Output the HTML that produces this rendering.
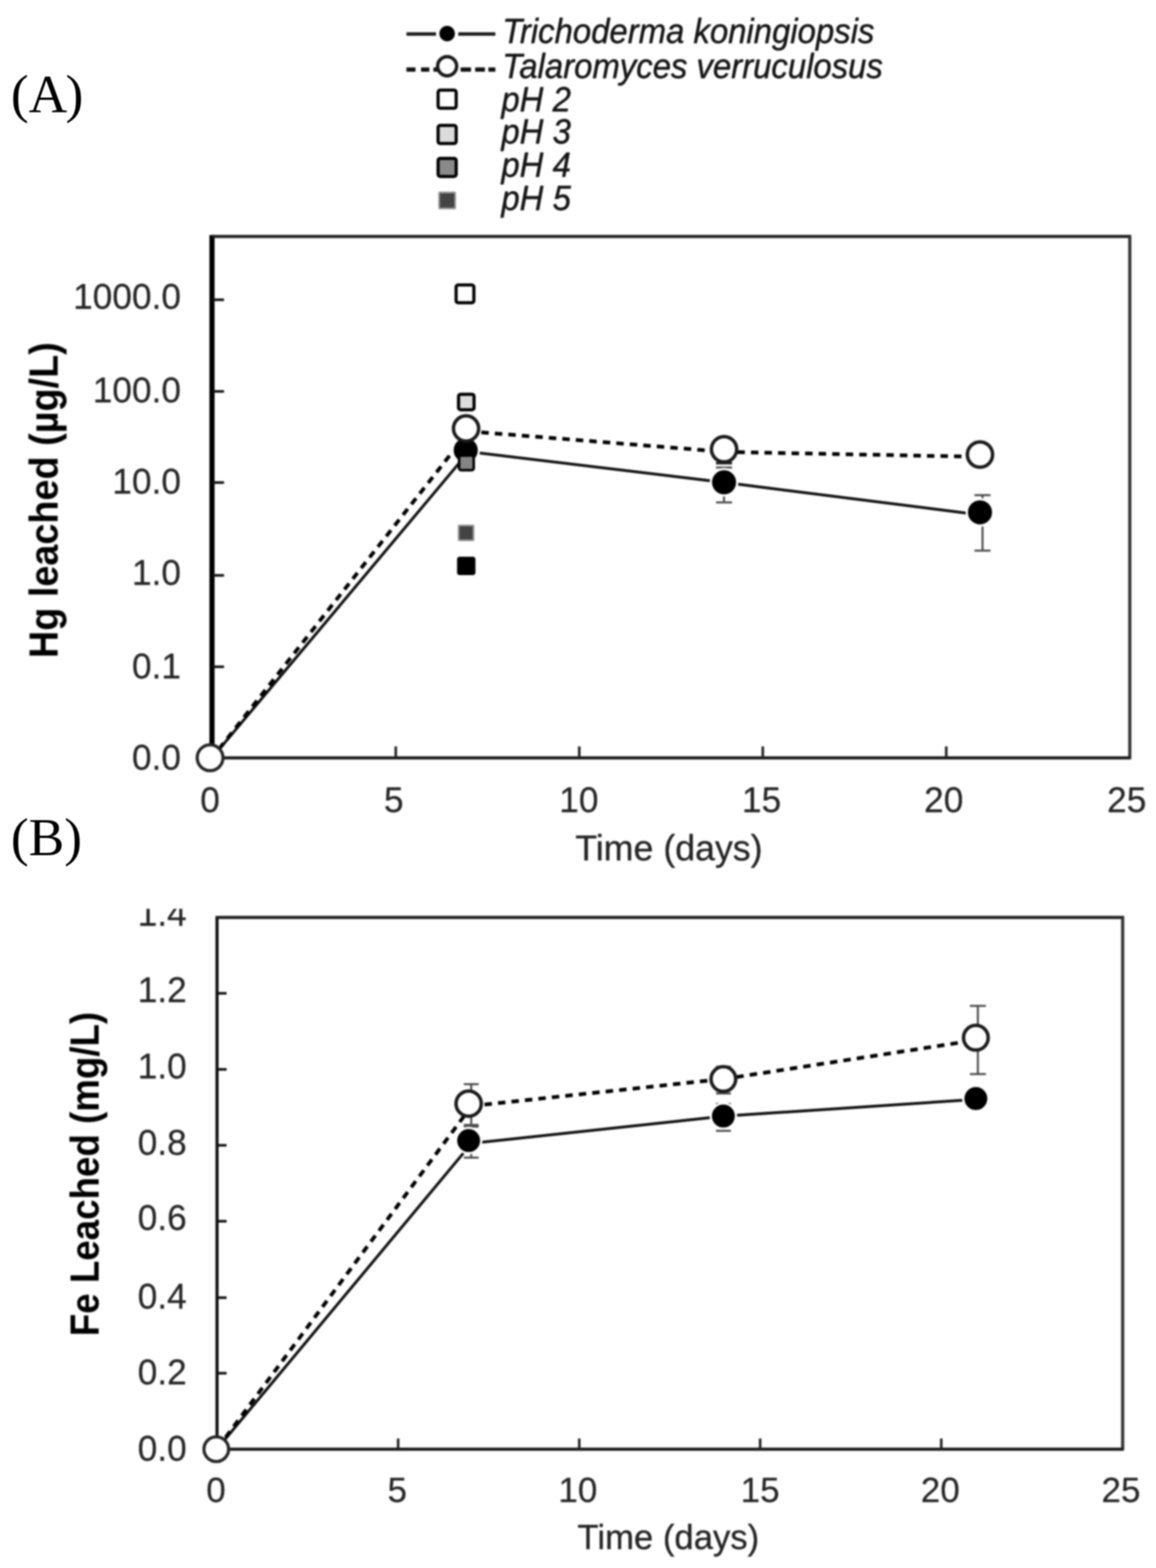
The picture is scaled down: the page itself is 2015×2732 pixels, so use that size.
<!DOCTYPE html>
<html lang="en"><head><meta charset="utf-8"><title>Hg and Fe leached over time</title>
<style>html,body{margin:0;padding:0;background:#fff}body{width:2015px;height:2732px;overflow:hidden}svg{display:block}</style>
</head><body>
<svg width="2015" height="2732" viewBox="0 0 2015 2732">
<rect x="0" y="0" width="2015" height="2732" fill="#fff"/>
<defs><filter id="soft" x="0" y="0" width="2015" height="2732" filterUnits="userSpaceOnUse" color-interpolation-filters="sRGB"><feGaussianBlur stdDeviation="1.7"/></filter><filter id="soft2" x="0" y="0" width="2015" height="2732" filterUnits="userSpaceOnUse" color-interpolation-filters="sRGB"><feGaussianBlur stdDeviation="0.9"/></filter><clipPath id="clipB"><rect x="0" y="1583.5" width="2015" height="1200"/></clipPath></defs>
<g id="panels" filter="url(#soft2)">
<text x="19" y="194.5" font-family="'Liberation Serif', 'Times New Roman', serif" font-size="93" text-anchor="start" fill="#000" font-weight="normal" font-style="normal"  dx="0 0 -3">(A)</text>
<text x="19" y="1490" font-family="'Liberation Serif', 'Times New Roman', serif" font-size="93" text-anchor="start" fill="#000" font-weight="normal" font-style="normal"  >(B)</text>
</g>
<g id="fig" filter="url(#soft)">
<line x1="708.5" y1="59.2" x2="863.4" y2="59.2" stroke="#1a1a1a" stroke-width="6" />
<circle cx="779.4" cy="58.5" r="16.5" fill="#000" stroke="#fff" stroke-width="6"/>
<line x1="708.5" y1="121.2" x2="724.2" y2="121.2" stroke="#111" stroke-width="7.5" />
<line x1="733.9" y1="121.2" x2="748.4" y2="121.2" stroke="#111" stroke-width="7.5" />
<line x1="755.5" y1="121.2" x2="763" y2="121.2" stroke="#111" stroke-width="7.5" />
<line x1="802.9" y1="121.2" x2="821" y2="121.2" stroke="#111" stroke-width="7.5" />
<line x1="828.3" y1="121.2" x2="845.3" y2="121.2" stroke="#111" stroke-width="7.5" />
<line x1="851.3" y1="121.2" x2="863.4" y2="121.2" stroke="#111" stroke-width="7.5" />
<circle cx="779.4" cy="115.3" r="16.6" fill="#fff" stroke="#1a1a1a" stroke-width="6"/>
<rect x="763.65" y="157.05" width="31.5" height="31.5" rx="3.5" fill="#fff" stroke="#000" stroke-width="5.5"/>
<rect x="763.65" y="218.55" width="31.5" height="31.5" rx="3.5" fill="#dcdcdc" stroke="#000" stroke-width="5.5"/>
<rect x="763.65" y="275.95" width="31.5" height="31.5" rx="3.5" fill="#8a8a8a" stroke="#000" stroke-width="5.5"/>
<rect x="765.4" y="335.3" width="28" height="28" rx="1" fill="#444" stroke="#9a9a9a" stroke-width="3"/>
<text transform="translate(875.5,74.5) scale(0.9347,1)" font-family="'Liberation Sans', Arial, sans-serif" font-size="61.3" font-style="italic" fill="#161616" stroke="#161616" stroke-width="0.8" stroke-linejoin="round">Trichoderma koningiopsis</text>
<text transform="translate(875.5,136.2) scale(0.9347,1)" font-family="'Liberation Sans', Arial, sans-serif" font-size="61.3" font-style="italic" fill="#161616" stroke="#161616" stroke-width="0.8" stroke-linejoin="round">Talaromyces verruculosus</text>
<text transform="translate(874,193.8) scale(0.9347,1)" font-family="'Liberation Sans', Arial, sans-serif" font-size="61.3" font-style="italic" fill="#161616" stroke="#161616" stroke-width="0.8" stroke-linejoin="round">pH 2</text>
<text transform="translate(874,250) scale(0.9347,1)" font-family="'Liberation Sans', Arial, sans-serif" font-size="61.3" font-style="italic" fill="#161616" stroke="#161616" stroke-width="0.8" stroke-linejoin="round">pH 3</text>
<text transform="translate(874,308.1) scale(0.9347,1)" font-family="'Liberation Sans', Arial, sans-serif" font-size="61.3" font-style="italic" fill="#161616" stroke="#161616" stroke-width="0.8" stroke-linejoin="round">pH 4</text>
<text transform="translate(874,366.2) scale(0.9347,1)" font-family="'Liberation Sans', Arial, sans-serif" font-size="61.3" font-style="italic" fill="#161616" stroke="#161616" stroke-width="0.8" stroke-linejoin="round">pH 5</text>
<text transform="translate(315.5,537.9) scale(0.975,1)" font-family="'Liberation Sans', Arial, sans-serif" font-size="63.08" text-anchor="end" fill="#262626" font-weight="normal" font-style="normal" stroke="#262626" stroke-width="0.35" stroke-linejoin="round" >1000.0</text>
<text transform="translate(315.5,700.9) scale(0.975,1)" font-family="'Liberation Sans', Arial, sans-serif" font-size="63.08" text-anchor="end" fill="#262626" font-weight="normal" font-style="normal" stroke="#262626" stroke-width="0.35" stroke-linejoin="round" >100.0</text>
<text transform="translate(315.5,859.8) scale(0.975,1)" font-family="'Liberation Sans', Arial, sans-serif" font-size="63.08" text-anchor="end" fill="#262626" font-weight="normal" font-style="normal" stroke="#262626" stroke-width="0.35" stroke-linejoin="round" >10.0</text>
<text transform="translate(315.5,1018.5) scale(0.975,1)" font-family="'Liberation Sans', Arial, sans-serif" font-size="63.08" text-anchor="end" fill="#262626" font-weight="normal" font-style="normal" stroke="#262626" stroke-width="0.35" stroke-linejoin="round" >1.0</text>
<text transform="translate(315.5,1182.0) scale(0.975,1)" font-family="'Liberation Sans', Arial, sans-serif" font-size="63.08" text-anchor="end" fill="#262626" font-weight="normal" font-style="normal" stroke="#262626" stroke-width="0.35" stroke-linejoin="round" >0.1</text>
<text transform="translate(315.5,1341.3) scale(0.975,1)" font-family="'Liberation Sans', Arial, sans-serif" font-size="63.08" text-anchor="end" fill="#262626" font-weight="normal" font-style="normal" stroke="#262626" stroke-width="0.35" stroke-linejoin="round" >0.0</text>
<text transform="translate(366,1415.3) scale(0.985,1)" font-family="'Liberation Sans', Arial, sans-serif" font-size="62.44" text-anchor="middle" fill="#262626" font-weight="normal" font-style="normal" stroke="#262626" stroke-width="0.35" stroke-linejoin="round" >0</text>
<text transform="translate(686.4,1415.3) scale(0.985,1)" font-family="'Liberation Sans', Arial, sans-serif" font-size="62.44" text-anchor="middle" fill="#262626" font-weight="normal" font-style="normal" stroke="#262626" stroke-width="0.35" stroke-linejoin="round" >5</text>
<text transform="translate(1009,1415.3) scale(0.985,1)" font-family="'Liberation Sans', Arial, sans-serif" font-size="62.44" text-anchor="middle" fill="#262626" font-weight="normal" font-style="normal" stroke="#262626" stroke-width="0.35" stroke-linejoin="round" >10</text>
<text transform="translate(1327.5,1415.3) scale(0.985,1)" font-family="'Liberation Sans', Arial, sans-serif" font-size="62.44" text-anchor="middle" fill="#262626" font-weight="normal" font-style="normal" stroke="#262626" stroke-width="0.35" stroke-linejoin="round" >15</text>
<text transform="translate(1645,1415.3) scale(0.985,1)" font-family="'Liberation Sans', Arial, sans-serif" font-size="62.44" text-anchor="middle" fill="#262626" font-weight="normal" font-style="normal" stroke="#262626" stroke-width="0.35" stroke-linejoin="round" >20</text>
<text transform="translate(1964,1415.3) scale(0.985,1)" font-family="'Liberation Sans', Arial, sans-serif" font-size="62.44" text-anchor="middle" fill="#262626" font-weight="normal" font-style="normal" stroke="#262626" stroke-width="0.35" stroke-linejoin="round" >25</text>
<text x="1166" y="1499" font-family="'Liberation Sans', Arial, sans-serif" font-size="62.3" text-anchor="middle" fill="#242424" font-weight="normal" font-style="normal" stroke="#242424" stroke-width="0.5" stroke-linejoin="round" >Time (days)</text>
<text transform="translate(100.5,871.4) rotate(-90) scale(0.941,1)" font-family="'Liberation Sans', Arial, sans-serif" font-size="70" font-weight="bold" text-anchor="middle" fill="#000">Hg leached (µg/L)</text>
<line x1="369.5" y1="409.5" x2="369.5" y2="1320.5" stroke="#000" stroke-width="9" />
<line x1="370" y1="412" x2="1971.8" y2="412" stroke="#222" stroke-width="5.5" />
<line x1="1969.3" y1="412" x2="1969.3" y2="1323.0" stroke="#333" stroke-width="5.5" />
<line x1="370" y1="1320.5" x2="1969.3" y2="1320.5" stroke="#1a1a1a" stroke-width="5.5" />
<line x1="370" y1="522.3" x2="390.5" y2="522.3" stroke="#111" stroke-width="4.5" />
<line x1="370" y1="682" x2="390.5" y2="682" stroke="#111" stroke-width="4.5" />
<line x1="370" y1="840.8" x2="390.5" y2="840.8" stroke="#111" stroke-width="4.5" />
<line x1="370" y1="1002.5" x2="390.5" y2="1002.5" stroke="#111" stroke-width="4.5" />
<line x1="370" y1="1161.8" x2="390.5" y2="1161.8" stroke="#111" stroke-width="4.5" />
<line x1="689.9" y1="1300.5" x2="689.9" y2="1320.5" stroke="#222" stroke-width="4.5" />
<line x1="1009.7" y1="1300.5" x2="1009.7" y2="1320.5" stroke="#222" stroke-width="4.5" />
<line x1="1329.6" y1="1300.5" x2="1329.6" y2="1320.5" stroke="#222" stroke-width="4.5" />
<line x1="1649.4" y1="1300.5" x2="1649.4" y2="1320.5" stroke="#222" stroke-width="4.5" />
<polyline points="370,1320 817,787 1266,841 1712,897.5" fill="none" stroke="#111" stroke-width="5" stroke-linejoin="round"/>
<line x1="370" y1="1320" x2="817" y2="751.5" stroke="#000" stroke-width="6.5" stroke-dasharray="13 10.6" stroke-dashoffset="4.8"/>
<line x1="817" y1="751.5" x2="1266" y2="787.5" stroke="#000" stroke-width="6.5" stroke-dasharray="13 10.6" stroke-dashoffset="1.5"/>
<line x1="1266" y1="787.5" x2="1712" y2="796" stroke="#000" stroke-width="6.5" stroke-dasharray="13 10.6" stroke-dashoffset="4.2"/>
<line x1="1262" y1="814.6" x2="1262" y2="875.4" stroke="#4a4a4a" stroke-width="3.5" />
<line x1="1248.0" y1="814.6" x2="1276.0" y2="814.6" stroke="#4a4a4a" stroke-width="3.5" />
<line x1="1248.0" y1="875.4" x2="1276.0" y2="875.4" stroke="#4a4a4a" stroke-width="3.5" />
<line x1="1248" y1="807" x2="1276" y2="807" stroke="#222" stroke-width="4.5" />
<line x1="1712.6" y1="862.7" x2="1712.6" y2="959.4" stroke="#4a4a4a" stroke-width="3.5" />
<line x1="1698.6" y1="862.7" x2="1726.6" y2="862.7" stroke="#4a4a4a" stroke-width="3.5" />
<line x1="1698.6" y1="959.4" x2="1726.6" y2="959.4" stroke="#4a4a4a" stroke-width="3.5" />
<rect x="795.0" y="496.6" width="31.0" height="31.0" rx="3.5" fill="#fff" stroke="#000" stroke-width="5.5"/>
<rect x="799.3" y="686.9" width="27.0" height="27.0" rx="3.5" fill="#dcdcdc" stroke="#000" stroke-width="5.5"/>
<rect x="799.45" y="972.65" width="26.5" height="26.5" rx="1.5" fill="#000" stroke="#000" stroke-width="5.5"/>
<rect x="799.4" y="915.4" width="26" height="26" rx="1" fill="#444" stroke="#9a9a9a" stroke-width="3"/>
<circle cx="811.8" cy="784.4" r="23.0" fill="#000" stroke="#fff" stroke-width="4"/>
<rect x="800.25" y="793.65" width="25.5" height="25.5" rx="3.5" fill="#858585" stroke="#000" stroke-width="4.5"/>
<circle cx="812.4" cy="746.6" r="22" fill="#fff" stroke="#1a1a1a" stroke-width="6"/>
<circle cx="1262.1" cy="840.3" r="23.0" fill="#000" stroke="#fff" stroke-width="4"/>
<circle cx="1262.1" cy="782.8" r="22" fill="#fff" stroke="#1a1a1a" stroke-width="6"/>
<circle cx="1708.2" cy="892.7" r="23.0" fill="#000" stroke="#fff" stroke-width="4"/>
<circle cx="1708.2" cy="792" r="22" fill="#fff" stroke="#1a1a1a" stroke-width="6"/>
<circle cx="366.2" cy="1320.3" r="22.5" fill="#fff" stroke="#262626" stroke-width="5.5"/>
<g clip-path="url(#clipB)">
<text transform="translate(325.5,1612.6) scale(0.975,1)" font-family="'Liberation Sans', Arial, sans-serif" font-size="63.08" text-anchor="end" fill="#262626" font-weight="normal" font-style="normal" stroke="#262626" stroke-width="0.35" stroke-linejoin="round" >1.4</text>
</g>
<text transform="translate(325.5,1745.8) scale(0.975,1)" font-family="'Liberation Sans', Arial, sans-serif" font-size="63.08" text-anchor="end" fill="#262626" font-weight="normal" font-style="normal" stroke="#262626" stroke-width="0.35" stroke-linejoin="round" >1.2</text>
<text transform="translate(325.5,1879) scale(0.975,1)" font-family="'Liberation Sans', Arial, sans-serif" font-size="63.08" text-anchor="end" fill="#262626" font-weight="normal" font-style="normal" stroke="#262626" stroke-width="0.35" stroke-linejoin="round" >1.0</text>
<text transform="translate(325.5,2012.2) scale(0.975,1)" font-family="'Liberation Sans', Arial, sans-serif" font-size="63.08" text-anchor="end" fill="#262626" font-weight="normal" font-style="normal" stroke="#262626" stroke-width="0.35" stroke-linejoin="round" >0.8</text>
<text transform="translate(325.5,2143) scale(0.975,1)" font-family="'Liberation Sans', Arial, sans-serif" font-size="63.08" text-anchor="end" fill="#262626" font-weight="normal" font-style="normal" stroke="#262626" stroke-width="0.35" stroke-linejoin="round" >0.6</text>
<text transform="translate(325.5,2280) scale(0.975,1)" font-family="'Liberation Sans', Arial, sans-serif" font-size="63.08" text-anchor="end" fill="#262626" font-weight="normal" font-style="normal" stroke="#262626" stroke-width="0.35" stroke-linejoin="round" >0.4</text>
<text transform="translate(325.5,2412.3) scale(0.975,1)" font-family="'Liberation Sans', Arial, sans-serif" font-size="63.08" text-anchor="end" fill="#262626" font-weight="normal" font-style="normal" stroke="#262626" stroke-width="0.35" stroke-linejoin="round" >0.2</text>
<text transform="translate(325.5,2544.5) scale(0.975,1)" font-family="'Liberation Sans', Arial, sans-serif" font-size="63.08" text-anchor="end" fill="#262626" font-weight="normal" font-style="normal" stroke="#262626" stroke-width="0.35" stroke-linejoin="round" >0.0</text>
<text x="376.4" y="2617" font-family="'Liberation Sans', Arial, sans-serif" font-size="61" text-anchor="middle" fill="#262626" font-weight="normal" font-style="normal" stroke="#262626" stroke-width="0.35" stroke-linejoin="round" >0</text>
<text x="692.5" y="2617" font-family="'Liberation Sans', Arial, sans-serif" font-size="61" text-anchor="middle" fill="#262626" font-weight="normal" font-style="normal" stroke="#262626" stroke-width="0.35" stroke-linejoin="round" >5</text>
<text x="1007.3" y="2617" font-family="'Liberation Sans', Arial, sans-serif" font-size="61" text-anchor="middle" fill="#262626" font-weight="normal" font-style="normal" stroke="#262626" stroke-width="0.35" stroke-linejoin="round" >10</text>
<text x="1325" y="2617" font-family="'Liberation Sans', Arial, sans-serif" font-size="61" text-anchor="middle" fill="#262626" font-weight="normal" font-style="normal" stroke="#262626" stroke-width="0.35" stroke-linejoin="round" >15</text>
<text x="1639" y="2617" font-family="'Liberation Sans', Arial, sans-serif" font-size="61" text-anchor="middle" fill="#262626" font-weight="normal" font-style="normal" stroke="#262626" stroke-width="0.35" stroke-linejoin="round" >20</text>
<text x="1954" y="2617" font-family="'Liberation Sans', Arial, sans-serif" font-size="61" text-anchor="middle" fill="#262626" font-weight="normal" font-style="normal" stroke="#262626" stroke-width="0.35" stroke-linejoin="round" >25</text>
<text transform="translate(1165,2699.2) scale(0.975,1)" font-family="'Liberation Sans', Arial, sans-serif" font-size="62" text-anchor="middle" fill="#242424" stroke="#242424" stroke-width="0.5">Time (days)</text>
<text transform="translate(172,2045.5) rotate(-90) scale(0.914,1)" font-family="'Liberation Sans', Arial, sans-serif" font-size="70" font-weight="bold" text-anchor="middle" fill="#000">Fe Leached (mg/L)</text>
<line x1="378.3" y1="1596.1" x2="378.3" y2="2525" stroke="#111" stroke-width="5.5" />
<line x1="378.3" y1="1598.6" x2="1959.4" y2="1598.6" stroke="#222" stroke-width="5.5" />
<line x1="1956.9" y1="1598.6" x2="1956.9" y2="2527.5" stroke="#333" stroke-width="5.5" />
<line x1="378.3" y1="2525" x2="1956.9" y2="2525" stroke="#1a1a1a" stroke-width="5.5" />
<line x1="378.3" y1="1730.7" x2="395" y2="1730.7" stroke="#111" stroke-width="4.5" />
<line x1="378.3" y1="1863.2" x2="395" y2="1863.2" stroke="#111" stroke-width="4.5" />
<line x1="378.3" y1="1995.5" x2="395" y2="1995.5" stroke="#111" stroke-width="4.5" />
<line x1="378.3" y1="2127.8" x2="395" y2="2127.8" stroke="#111" stroke-width="4.5" />
<line x1="378.3" y1="2261" x2="395" y2="2261" stroke="#111" stroke-width="4.5" />
<line x1="378.3" y1="2392.6" x2="395" y2="2392.6" stroke="#111" stroke-width="4.5" />
<line x1="694" y1="2506.4" x2="694" y2="2525" stroke="#222" stroke-width="4.5" />
<line x1="1009.7" y1="2506.4" x2="1009.7" y2="2525" stroke="#222" stroke-width="4.5" />
<line x1="1325" y1="2506.4" x2="1325" y2="2525" stroke="#222" stroke-width="4.5" />
<line x1="1640.7" y1="2506.4" x2="1640.7" y2="2525" stroke="#222" stroke-width="4.5" />
<polyline points="378,2525 822,1992 1264,1944.6 1705,1915.3" fill="none" stroke="#111" stroke-width="5" stroke-linejoin="round"/>
<line x1="378" y1="2525" x2="822" y2="1927" stroke="#000" stroke-width="6.5" stroke-dasharray="13 10.6" stroke-dashoffset="21.5"/>
<line x1="822" y1="1927" x2="1264" y2="1879.6" stroke="#000" stroke-width="6.5" stroke-dasharray="13 10.6" stroke-dashoffset="0.9"/>
<line x1="1264" y1="1879.6" x2="1705" y2="1811.7" stroke="#000" stroke-width="6.5" stroke-dasharray="13 10.6" stroke-dashoffset="3.9"/>
<line x1="821.4" y1="1889" x2="821.4" y2="1963" stroke="#4a4a4a" stroke-width="3.5" />
<line x1="808.4" y1="1889" x2="834.4" y2="1889" stroke="#4a4a4a" stroke-width="3.5" />
<line x1="808.4" y1="1963" x2="834.4" y2="1963" stroke="#4a4a4a" stroke-width="3.5" />
<line x1="821.4" y1="1960" x2="821.4" y2="2017" stroke="#4a4a4a" stroke-width="3.5" />
<line x1="808.4" y1="1960" x2="834.4" y2="1960" stroke="#4a4a4a" stroke-width="3.5" />
<line x1="808.4" y1="2017" x2="834.4" y2="2017" stroke="#4a4a4a" stroke-width="3.5" />
<line x1="1261" y1="1858.5" x2="1261" y2="1905.2" stroke="#4a4a4a" stroke-width="3.5" />
<line x1="1248.0" y1="1858.5" x2="1274.0" y2="1858.5" stroke="#4a4a4a" stroke-width="3.5" />
<line x1="1248.0" y1="1905.2" x2="1274.0" y2="1905.2" stroke="#4a4a4a" stroke-width="3.5" />
<line x1="1261" y1="1923.4" x2="1261" y2="1970.3" stroke="#4a4a4a" stroke-width="3.5" />
<line x1="1248.0" y1="1923.4" x2="1274.0" y2="1923.4" stroke="#4a4a4a" stroke-width="3.5" />
<line x1="1248.0" y1="1970.3" x2="1274.0" y2="1970.3" stroke="#4a4a4a" stroke-width="3.5" />
<line x1="1704.5" y1="1752.6" x2="1704.5" y2="1871.4" stroke="#4a4a4a" stroke-width="3.5" />
<line x1="1690.5" y1="1752.6" x2="1718.5" y2="1752.6" stroke="#4a4a4a" stroke-width="3.5" />
<line x1="1690.5" y1="1871.4" x2="1718.5" y2="1871.4" stroke="#4a4a4a" stroke-width="3.5" />
<circle cx="816.9" cy="1987.3" r="22.0" fill="#000" stroke="#fff" stroke-width="4"/>
<circle cx="816.9" cy="1922.9" r="22" fill="#fff" stroke="#1a1a1a" stroke-width="6"/>
<circle cx="1260.9" cy="1944.6" r="22.0" fill="#000" stroke="#fff" stroke-width="4"/>
<circle cx="1260.9" cy="1880.1" r="21.5" fill="#fff" stroke="#1a1a1a" stroke-width="6"/>
<circle cx="1701" cy="1914.1" r="22.0" fill="#000" stroke="#fff" stroke-width="4"/>
<circle cx="1701" cy="1808.1" r="21.5" fill="#fff" stroke="#1a1a1a" stroke-width="6"/>
<circle cx="377" cy="2525" r="21.5" fill="#fff" stroke="#262626" stroke-width="5.5"/>
</g></svg></body></html>
